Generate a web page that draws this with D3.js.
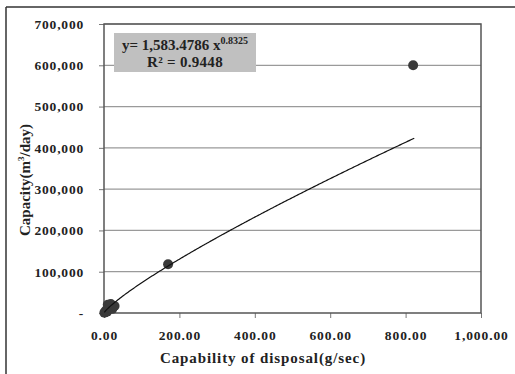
<!DOCTYPE html>
<html>
<head>
<meta charset="utf-8">
<script src="https://cdn.jsdelivr.net/npm/d3@7"></script>
<style>
  body { margin: 0; background: #fff; }
  svg text { font-family: "Liberation Serif", "Times New Roman", serif; font-weight: bold; fill: #222; }
</style>
</head>
<body>
<svg id="chart" width="515" height="374"></svg>
<script>
// observed points (g/sec, m3/day)
const disposal = [1, 3, 5, 8, 10, 14, 18, 22, 28, 170, 820];
const capacity = [500, 2000, 6000, 3000, 20000, 12000, 22000, 10000, 17000, 118000, 600000];

// power trend from the chart label
const coefA = 1583.4786;
const coefB = 0.8325;
const rSquared = 0.9448;

const xTicks = [0, 200, 400, 600, 800, 1000];
const yTicks = [0, 100000, 200000, 300000, 400000, 500000, 600000, 700000];

const width = 515, height = 374;
const margin = { top: 24, right: 34, bottom: 61, left: 104 };
const svg = d3.select("#chart");

const x = d3.scaleLinear().domain([0, 1000]).range([margin.left, width - margin.right]);
const y = d3.scaleLinear().domain([0, 700000]).range([height - margin.bottom, margin.top]);

// outer frame (only top + left visible in the crop)
svg.append("line").attr("x1", 6).attr("x2", width).attr("y1", 7).attr("y2", 7)
  .attr("stroke", "#333").attr("stroke-width", 1.5);
svg.append("line").attr("x1", 6).attr("x2", 6).attr("y1", 7).attr("y2", height)
  .attr("stroke", "#333").attr("stroke-width", 1.5);

// gridlines
svg.append("g")
  .selectAll("line")
  .data(yTicks.slice(1))
  .join("line")
  .attr("x1", x(0)).attr("x2", x(1000))
  .attr("y1", d => y(d)).attr("y2", d => y(d))
  .attr("stroke", "#9a9a9a").attr("stroke-width", 1.2);

const fmtY = d => d === 0 ? "-" : d3.format(",")(d);
const fmtX = d => d3.format(",.2f")(d);

// y axis
const yAxis = svg.append("g")
  .attr("transform", `translate(${x(0)},0)`)
  .call(d3.axisLeft(y).tickValues(yTicks).tickFormat(fmtY).tickSize(5).tickPadding(15));
yAxis.select(".domain").remove();
yAxis.selectAll(".tick line").attr("stroke", "#777");
yAxis.selectAll("text").style("font-size", "13.5px").attr("letter-spacing", "0.8px");

// x axis
const xAxis = svg.append("g")
  .attr("transform", `translate(0,${y(0)})`)
  .call(d3.axisBottom(x).tickValues(xTicks).tickFormat(fmtX).tickSize(5).tickPadding(12));
xAxis.select(".domain").remove();
xAxis.selectAll(".tick line").attr("stroke", "#777");
xAxis.selectAll("text").style("font-size", "13.5px").attr("letter-spacing", "0.9px");

// plot border
svg.append("rect")
  .attr("x", x(0)).attr("y", y(700000))
  .attr("width", x(1000) - x(0)).attr("height", y(0) - y(700000))
  .attr("fill", "none").attr("stroke", "#555").attr("stroke-width", 1.5);

// points
svg.append("g")
  .selectAll("circle")
  .data(disposal.map((d, i) => [d, capacity[i]]))
  .join("circle")
  .attr("cx", d => x(d[0]))
  .attr("cy", d => y(d[1]))
  .attr("r", 5)
  .attr("fill", "#3a3a3a");

// trend line
const trendX = d3.range(1, 824, 3);
const line = d3.line().x(d => x(d)).y(d => y(coefA * Math.pow(d, coefB)));
svg.append("path")
  .datum(trendX)
  .attr("d", line)
  .attr("fill", "none")
  .attr("stroke", "#111")
  .attr("stroke-width", 1.2);

// equation box
const box = svg.append("g").attr("transform", "translate(114,33)");
box.append("rect").attr("width", 142).attr("height", 39).attr("fill", "#c0c0c0");
const eq = box.append("text").attr("x", 71).attr("y", 17).attr("text-anchor", "middle")
  .style("font-size", "15px");
eq.append("tspan").text(`y= ${d3.format(",")(coefA)} x`);
eq.append("tspan").attr("dy", -6).style("font-size", "10px").text(coefB);
box.append("text").attr("x", 71).attr("y", 34).attr("text-anchor", "middle")
  .style("font-size", "15px").attr("letter-spacing", "0.3px").text(`R² = ${rSquared}`);

// axis titles
svg.append("text")
  .attr("x", 263).attr("y", 363)
  .attr("text-anchor", "middle").style("font-size", "15px").attr("letter-spacing", "0.9px")
  .text("Capability of disposal(g/sec)");

const yt = svg.append("text")
  .attr("transform", `translate(30,180) rotate(-90)`)
  .attr("text-anchor", "middle").style("font-size", "15px");
yt.append("tspan").text("Capacity(m");
yt.append("tspan").attr("dy", -6).style("font-size", "9px").text("3");
yt.append("tspan").attr("dy", 6).text("/day)");
</script>
</body>
</html>
